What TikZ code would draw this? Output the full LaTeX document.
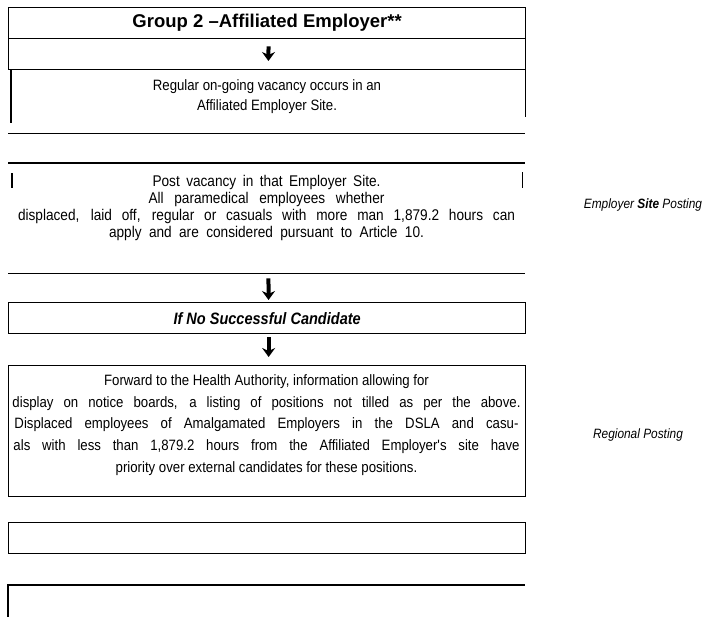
\documentclass[tikz,border=0pt]{standalone}
\usepackage{fontspec}
\setmainfont{Liberation Sans}
\newfontfamily\narrowfont[FakeStretch=0.88]{Liberation Sans}
\usetikzlibrary{arrows.meta, positioning}
\tikzstyle{rowbox} = [rectangle, draw=black, line width=1.3pt, minimum width=517pt, minimum height=31pt, inner sep=0pt, anchor=north west]
\tikzstyle{openbox} = [rectangle, minimum width=517pt, inner sep=0pt, anchor=north west]
\tikzstyle{border} = [line width=1.3pt]
\tikzstyle{bar} = [line width=1.8pt]
\tikzstyle{boxtext} = [align=center, inner sep=0pt, font=\narrowfont\fontsize{15}{17.3}\selectfont]
\tikzstyle{sidelabel} = [inner sep=0pt, font=\narrowfont\fontsize{13.5}{16}\selectfont\itshape]
\tikzstyle{arrow} = [line width=4pt, -{Stealth[length=9pt,width=13pt,inset=3pt]}, transform canvas={xshift=1.5pt}]

\begin{document}
\begin{tikzpicture}[x=1pt, y=-1pt]
        \useasboundingbox (0,0) rectangle (707,616);

        \node (title) [rowbox, font=\fontsize{18.5}{20}\selectfont\bfseries] at (8,7) {Group 2 --Affiliated Employer**};
        \node (gapA) [rowbox] at (8,38) {};
        \node (regular) [openbox, minimum height=64pt] at (8,69) {};
        \node (post) [openbox, minimum height=110pt] at (8,163) {};
        \node (nosucc) [rowbox, font=\narrowfont\fontsize{16.5}{18}\selectfont\bfseries\itshape] at (8,302) {If No Successful Candidate};
        \node (forward) [rowbox, minimum height=131pt] at (8,365) {};
        \node (emptyA) [rowbox] at (8,522) {};
        \node (emptyB) [openbox, minimum height=40pt] at (8,585) {};

        % texts of the open boxes
        \node (regulartext) [boxtext, font=\narrowfont\fontsize{15}{20}\selectfont] at (267,97) {Regular on-going vacancy occurs in an\\ Affiliated Employer Site.};
        \node (posttext) [boxtext, font=\narrowfont\fontsize{15.5}{17.3}\selectfont] at (266.5,208) {\makebox[228pt][s]{Post vacancy in that Employer Site.}\\ \makebox[236pt][s]{All paramedical employees whether}\\ \makebox[497pt][s]{displaced, laid off, regular or casuals with more man 1,879.2 hours can}\\ \makebox[315pt][s]{apply and are considered pursuant to Article 10.}};
        \node (forwardtext) [boxtext, font=\narrowfont\fontsize{15}{21.8}\selectfont] at (266.5,425) {Forward to the Health Authority, information allowing for\\ \makebox[508pt][s]{display on notice boards, a listing of positions not tilled as per the above.}\\ \makebox[504pt][s]{Displaced employees of Amalgamated Employers in the DSLA and casu-}\\ \makebox[506pt][s]{als with less than 1,879.2 hours from the Affiliated Employer's site have}\\ priority over external candidates for these positions.};

        \node (sitelabel) [sidelabel] at (643,205) {Employer \textbf{Site} Posting};
        \node (regionlabel) [sidelabel] at (638,435) {Regional Posting};

        % broken borders
        \draw [border] (regular.south west) -- (regular.south east);
        \draw [bar] ([xshift=3pt]regular.north west) -- ++(0,54);
        \draw [bar] ([yshift=2pt]regular.north east) -- ++(0,50);
        \draw [border] (post.north west) -- (post.north east);
        \draw [border] (post.south west) -- (post.south east);
        \draw [bar] ([xshift=4pt,yshift=-10pt]post.north west) -- ++(0,15);
        \draw [bar] ([xshift=-3pt,yshift=-9pt]post.north east) -- ++(0,16);
        \draw [border] (emptyB.south west) -- (emptyB.north west) -- (emptyB.north east);

        \draw [arrow, shorten <=7pt, shorten >=8pt] (title) -- (regular);
        \draw [arrow, shorten <=5pt, shorten >=2pt] (post) -- (nosucc);
        \draw [arrow, shorten <=3pt, shorten >=8pt] (nosucc) -- (forward);

      \end{tikzpicture}
\end{document}
